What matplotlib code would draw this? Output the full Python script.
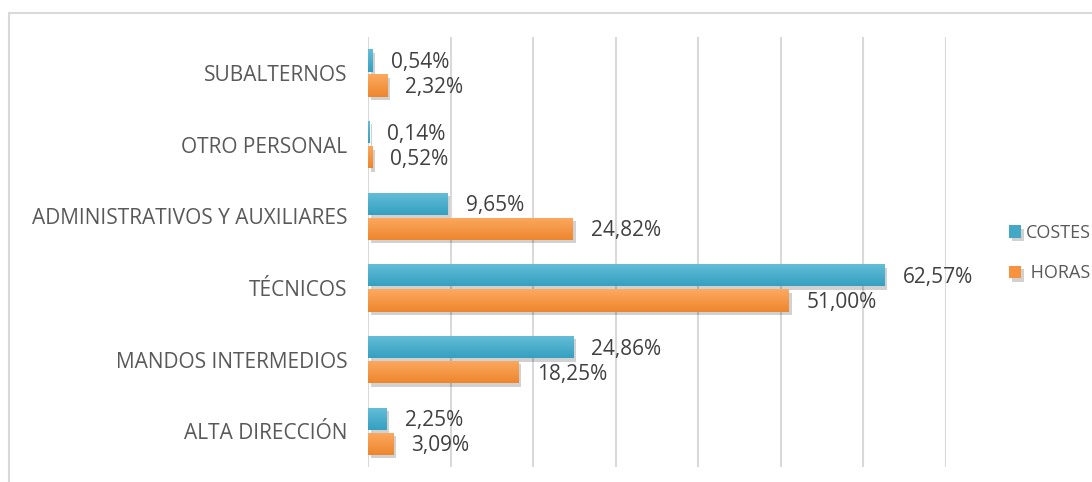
import matplotlib

matplotlib.use("Agg")
import matplotlib.pyplot as plt
import matplotlib.patheffects as pe
import numpy as np
from matplotlib.colors import LinearSegmentedColormap
from matplotlib.patches import Rectangle

categories = ["ALTA DIRECCIÓN", "MANDOS INTERMEDIOS", "TÉCNICOS",
              "ADMINISTRATIVOS Y AUXILIARES", "OTRO PERSONAL", "SUBALTERNOS"]
costes = [2.25, 24.86, 62.57, 9.65, 0.14, 0.54]
horas = [3.09, 18.25, 51.00, 24.82, 0.52, 2.32]

plt.rcParams["font.family"] = ["Open Sans", "DejaVu Sans"]

fig = plt.figure(figsize=(10.92, 4.82), dpi=100)
ax = fig.add_axes([0.337, 0.031, 0.529, 0.892])

# chart-area border, cut off at right and bottom like the screenshot
fig.patches.append(Rectangle((9 / 1092, -0.1), 1.2, 1 - 13 / 482 + 0.1,
                             transform=fig.transFigure, fill=False,
                             edgecolor="#d9d9d9", linewidth=1.5))

blue = "#43a8c6"
orange = "#f7923e"
grad = {blue: LinearSegmentedColormap.from_list("b", ["#65bed8", "#36a0c0"]),
        orange: LinearSegmentedColormap.from_list("o", ["#fca960", "#ee862e"])}
shadow = [pe.SimplePatchShadow(offset=(2, -2.5), shadow_rgbFace="black", alpha=0.18), pe.Normal()]

pos = list(range(len(categories)))
b1 = ax.barh([p + 0.175 for p in pos], costes, height=0.31, color=blue, label="COSTES", zorder=3)
b2 = ax.barh([p - 0.175 for p in pos], horas, height=0.31, color=orange, label=" HORAS", zorder=3)
g = np.linspace(0, 1, 32).reshape(-1, 1)
for bars, col in ((b1, blue), (b2, orange)):
    for bar in bars:
        bar.set_path_effects(shadow)
        x0, y0 = bar.get_x(), bar.get_y()
        im = ax.imshow(g, cmap=grad[col], aspect="auto", zorder=3.5,
                       extent=(x0, x0 + bar.get_width(), y0, y0 + bar.get_height()))
        im.set_clip_path(bar)

def fmt(v):
    return f"{v:.2f}".replace(".", ",") + "%"

for bars, vals in ((b1, costes), (b2, horas)):
    for bar, v in zip(bars, vals):
        ax.annotate(fmt(v), (v, bar.get_y() + bar.get_height() / 2),
                    xytext=(13, -1.5), textcoords="offset points",
                    va="center", ha="left", fontsize=15, color="#404040", zorder=4)

ax.set_xlim(0, 70)
ax.set_ylim(-0.5, 5.5)
ax.set_xticks(range(0, 71, 10))
ax.xaxis.set_ticklabels([])
ax.set_yticks(pos)
ax.set_yticklabels(categories, fontsize=15, color="#595959")
ax.tick_params(length=0, pad=15)
ax.grid(axis="x", color="#d9d9d9", linewidth=1.5, zorder=0)
for s in ax.spines.values():
    s.set_visible(False)

leg = fig.legend(handles=[b1, b2], loc="center left", bbox_to_anchor=(0.924, 0.475),
                 frameon=False, fontsize=13, handlelength=0.68, handleheight=0.68,
                 labelspacing=1.25, handletextpad=0.25, borderaxespad=0, borderpad=0)
for t in leg.get_texts():
    t.set_color("#595959")

fig.savefig("out.png", dpi=100)
